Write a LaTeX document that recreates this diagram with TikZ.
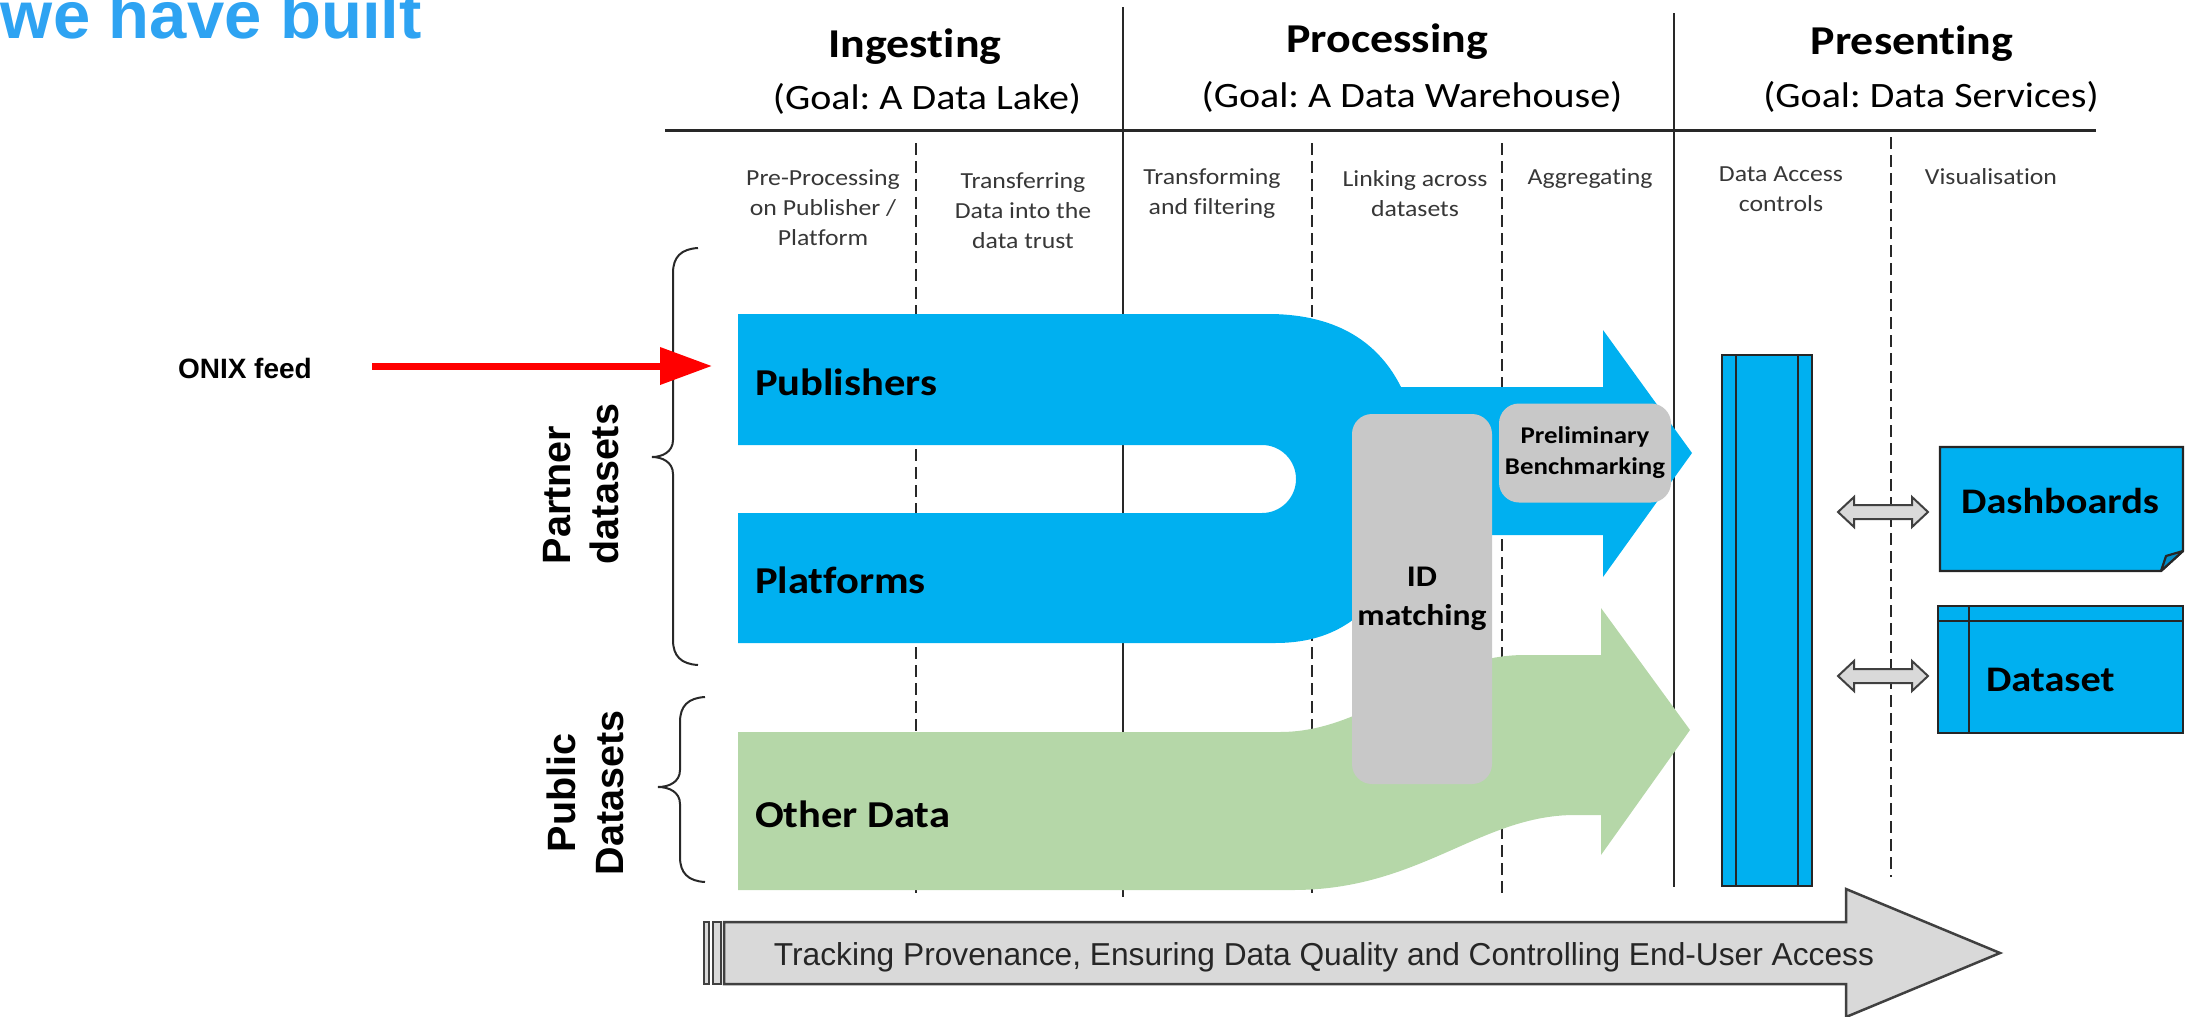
\documentclass[tikz,border=0pt]{standalone}
\usepackage{fontspec}
\setmainfont{Carlito}[Ligatures=NoCommon]
\newfontfamily\arialfont{Liberation Sans}
\usepackage{graphicx}
\usetikzlibrary{arrows.meta}
\definecolor{flowblue}{RGB}{0,176,240}
\definecolor{flowgreen}{RGB}{181,215,168}
\definecolor{boxgray}{RGB}{200,200,200}
\definecolor{titleblue}{RGB}{46,163,242}
\definecolor{linegray}{RGB}{40,40,40}
\definecolor{subtext}{RGB}{55,55,55}
\definecolor{arrowgray}{RGB}{217,217,217}
\definecolor{edgegray}{RGB}{64,64,64}
\definecolor{foldblue}{RGB}{0,140,200}
\newcommand{\wide}[1]{\scalebox{1.12}[1]{#1}}
\frenchspacing
\begin{document}
\begin{tikzpicture}[x=1pt,y=-1pt,
  every node/.style={inner sep=0pt,outer sep=0pt},
  hdr/.style={font=\fontsize{41}{49}\selectfont\bfseries, anchor=base},
  goal/.style={font=\fontsize{35.7}{43}\selectfont, anchor=base},
  sublbl/.style={font=\fontsize{23}{30}\selectfont, align=center, text=subtext},
  flowlbl/.style={font=\fontsize{38}{46}\selectfont\bfseries, anchor=base west},
  sidelbl/.style={font=\arialfont\bfseries\fontsize{39.5}{48}\selectfont, rotate=90},
  sepline/.style={draw=linegray, line width=2},
  dashsep/.style={draw=linegray, line width=2, dash pattern=on 12pt off 6pt},
  bracepath/.style={draw=linegray, line width=2},
  darkedge/.style={draw=black!85, line width=2.2},
  dblarrow/.style={fill=arrowgray, draw=edgegray, line width=2, line join=miter},
]
\useasboundingbox (0,0) rectangle (2201,1017);

% title
\node[font=\arialfont\bfseries\fontsize{67}{80}\selectfont, text=titleblue, anchor=base west] (title) at (1,38) {we have built};

% header separators
\draw[sepline] (1123,7) -- (1123,897);
\draw[sepline] (1674,13) -- (1674,887);
\draw[draw=linegray, line width=3] (665,130) -- (2096,130);
\draw[dashsep] (916,143) -- (916,897);
\draw[dashsep] (1312,143) -- (1312,897);
\draw[dashsep] (1502,143) -- (1502,897);
\draw[dashsep] (1891,137) -- (1891,877);

% headers
\node[hdr] (ing) at (915,57) {\wide{Ingesting}};
\node[goal] (ingg) at (927,109) {\wide{(Goal: A Data Lake)}};
\node[hdr] (proc) at (1387,52) {\wide{Processing}};
\node[goal] (procg) at (1412,107) {\wide{(Goal: A Data Warehouse)}};
\node[hdr] (pres) at (1912,54) {\wide{Presenting}};
\node[goal] (presg) at (1931,107) {\wide{(Goal: Data Services)}};

% sub labels
\node[sublbl] (s1) at (823,208) {\wide{Pre-Processing}\\\wide{on Publisher /}\\\wide{Platform}};
\node[sublbl] (s2) at (1023,211) {\wide{Transferring}\\\wide{Data into the}\\\wide{data trust}};
\node[sublbl] (s3) at (1212,194) {\wide{Transforming}\\\wide{and filtering}};
\node[sublbl] (s4) at (1415,194) {\wide{Linking across}\\\wide{datasets}};
\node[sublbl] (s5) at (1590,179) {\wide{Aggregating}};
\node[sublbl] (s6) at (1781,189) {\wide{Data Access}\\\wide{controls}};
\node[sublbl] (s7) at (1991,177) {\wide{Visualisation}};

% green flow
\fill[flowgreen] (738,732) -- (1280,732) .. controls (1370,732) and (1430,655) .. (1525,655)
  -- (1601,655) -- (1601,608) -- (1690,730) -- (1601,855) -- (1601,815) -- (1575,815)
  .. controls (1480,815) and (1420,890) .. (1293,890) -- (738,890) -- cycle;

% blue flow
\fill[flowblue] (738,314) -- (1268,314) .. controls (1340,314) and (1380,345) .. (1401,387)
  -- (1603,387) -- (1603,330) -- (1692,453) -- (1603,577) -- (1603,535) -- (1400,535)
  -- (1400,560) .. controls (1370,620) and (1330,643) .. (1275,643) -- (738,643) -- (738,513)
  -- (1262,513) .. controls (1280.8,513) and (1296,497.8) .. (1296,479)
  .. controls (1296,460.2) and (1280.8,445) .. (1262,445) -- (738,445) -- cycle;

% gray boxes
\node[fill=boxgray, rounded corners=20pt, minimum width=140, minimum height=370,
      font=\fontsize{30}{39}\selectfont\bfseries, align=center] (idm) at (1422,599) {\wide{ID}\\\wide{matching}};
\node[fill=boxgray, rounded corners=20pt, minimum width=172, minimum height=99,
      font=\fontsize{24}{31}\selectfont\bfseries, align=center] (prel) at (1585,453) {\wide{Preliminary}\\\wide{Benchmarking}};

% flow labels
\node[flowlbl] (pub) at (755,395) {\wide{Publishers}};
\node[flowlbl] (plat) at (755,593) {\wide{Platforms}};
\node[flowlbl] (oth) at (755,827) {\wide{Other Data}};

% braces and side labels
\draw[bracepath] (698,248) .. controls (681,249) and (673,257) .. (673,273) -- (673,440)
  .. controls (673,452) and (662,457) .. (652,457) .. controls (662,457) and (673,462) .. (673,474)
  -- (673,640) .. controls (673,656) and (681,664) .. (698,665);
\draw[bracepath] (705,697) .. controls (688,698) and (680,706) .. (680,722) -- (680,770)
  .. controls (680,782) and (669,787) .. (658,787) .. controls (669,787) and (680,792) .. (680,804)
  -- (680,857) .. controls (680,873) and (688,881) .. (705,882);
\node[sidelbl, align=left] (partner) at (581,484) {Partner\\datasets};
\node[sidelbl, align=center] (public) at (585,793) {Public\\Datasets};

% ONIX feed
\node[font=\arialfont\bfseries\fontsize{28}{34}\selectfont, anchor=base west] (onix) at (178,378) {ONIX feed};
\coordinate (onixA) at (372,366);
\coordinate (onixB) at (712,366);
\draw[red, line width=7, -{Triangle[length=52pt,width=36pt]}] (onixA) -- (onixB);

% data access bar
\node[fill=flowblue, darkedge, minimum width=90, minimum height=531, anchor=north west] (dac) at (1722,355) {};
\draw[darkedge] (1736,355) -- (1736,886);
\draw[darkedge] (1798,355) -- (1798,886);

% dashboards (folded corner)
\filldraw[fill=flowblue, darkedge, line join=miter] (1940,447) -- (2183,447) -- (2183,551) -- (2161,571) -- (1940,571) -- cycle;
\filldraw[fill=foldblue, darkedge, line join=round] (2183,551) -- (2161,571) -- (2166,556) -- cycle;
\node[font=\fontsize{36}{44}\selectfont\bfseries, anchor=base] (dash) at (2060,513) {\wide{Dashboards}};

% dataset
\filldraw[fill=flowblue, darkedge] (1938,606) rectangle (2183,733);
\draw[darkedge] (1938,621) -- (2183,621);
\draw[darkedge] (1969,606) -- (1969,733);
\node[font=\fontsize{36}{44}\selectfont\bfseries, anchor=base west] (dset) at (1986,691) {\wide{Dataset}};

% double arrows
\filldraw[dblarrow] (1838,512) -- (1854,497) -- (1854,505) -- (1912,505) -- (1912,497) -- (1928,512)
  -- (1912,527) -- (1912,519) -- (1854,519) -- (1854,527) -- cycle;
\filldraw[dblarrow] (1838,676) -- (1854,661) -- (1854,669) -- (1912,669) -- (1912,661) -- (1928,676)
  -- (1912,691) -- (1912,683) -- (1854,683) -- (1854,691) -- cycle;

% bottom striped arrow
\filldraw[fill=arrowgray, draw=edgegray, line width=2.5] (704,922) rectangle (709,984);
\filldraw[fill=arrowgray, draw=edgegray, line width=2.5] (713,922) rectangle (721,984);
\filldraw[fill=arrowgray, draw=edgegray, line width=2.5, line join=miter] (724,922) -- (1846,922) -- (1846,889)
  -- (2000,953) -- (1846,1017) -- (1846,984) -- (724,984) -- cycle;
\node[font=\arialfont\fontsize{31.7}{38}\selectfont, anchor=base, text=black!85] (track) at (1324,965)
  {Tracking Provenance, Ensuring Data Quality and Controlling End-User Access};
\end{tikzpicture}
\end{document}
